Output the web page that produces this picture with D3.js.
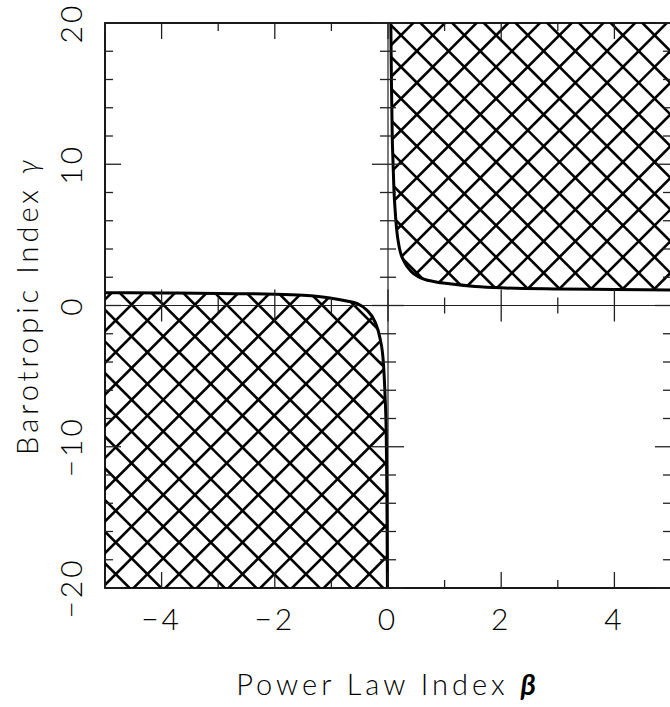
<!DOCTYPE html>
<html>
<head>
<meta charset="utf-8">
<script src="https://cdn.jsdelivr.net/npm/d3@7"></script>
<style>
  html, body { margin: 0; padding: 0; background: #fff; }
  svg text { font-family: "Lato", "DejaVu Sans", sans-serif; font-weight: 300; fill: #000; }
</style>
</head>
<body>
<svg id="chart" width="670" height="707"></svg>
<script>
// ---- data ----
const upperBeta  = [0.05, 0.06, 0.075, 0.09, 0.105, 0.125, 0.15, 0.2, 0.3, 0.4, 0.535, 0.83, 1.125, 1.54, 2.0, 3.0, 4.0, 5.0];
const upperGamma = [20, 16, 12, 10, 8.2, 6.8, 5.5, 4.1, 3.0, 2.45, 2.04, 1.68, 1.52, 1.35, 1.25, 1.17, 1.13, 1.1];
const lowerBeta  = [-5, -4, -3, -2, -1.5, -1.025, -0.73, -0.55, -0.376, -0.23, -0.141, -0.083, -0.053, -0.032, -0.02, -0.01];
const lowerGamma = [0.91, 0.89, 0.85, 0.8, 0.72, 0.53, 0.32, 0.15, -0.32, -1.15, -2.32, -3.98, -6.3, -9, -13, -20];
const xDomain = [-5, 5];
const yDomain = [-20, 20];
const xMajorTicks = [-4, -2, 0, 2, 4];
const xMinorTicks = [-5, -3, -1, 1, 3, 5];
const yMajorTicks = [-20, -10, 0, 10, 20];
const yMinorTicks = [-18, -16, -14, -12, -8, -6, -4, -2, 2, 4, 6, 8, 12, 14, 16, 18];
const xTitle = "Power Law Index ";
const xSymbol = "β";
const yTitle = "Barotropic Index ";
const ySymbol = "γ";

// ---- layout ----
const svg = d3.select("#chart");
const L = 105, R = 671, T = 23, B = 588;
const x = d3.scaleLinear().domain(xDomain).range([L, R]);
const y = d3.scaleLinear().domain(yDomain).range([B, T]);

const upper = upperBeta.map((b, i) => [b, upperGamma[i]]);
const lower = lowerBeta.map((b, i) => [b, lowerGamma[i]]);

const line = d3.line().x(d => x(d[0])).y(d => y(d[1])).curve(d3.curveMonotoneX);

const defs = svg.append("defs");
function regionPath(pts, corner) {
  return line(pts) + "L" + x(corner[0]) + "," + y(corner[1]) + "Z";
}
defs.append("clipPath").attr("id", "clipUpper")
  .append("path").attr("d", regionPath(upper, [xDomain[1], yDomain[1]]));
defs.append("clipPath").attr("id", "clipLower")
  .append("path").attr("d", regionPath(lower, [xDomain[0], yDomain[0]]));
defs.append("clipPath").attr("id", "clipPlot")
  .append("rect").attr("x", L).attr("y", T).attr("width", R - L).attr("height", B - T);

// cross-hatching
const hatchStep = 31.7;
const phaseDiff = 20, phaseSum = 27;
function hatch(clipId) {
  const g = svg.append("g").attr("clip-path", `url(#${clipId})`)
    .append("g").attr("clip-path", "url(#clipPlot)");
  const segs = [];
  for (let c = -2000 + phaseDiff; c < 2000; c += hatchStep) {
    segs.push([[c - 100, -100], [c + 900, 900]]);
  }
  for (let c = -2000 + phaseSum; c < 2500; c += hatchStep) {
    segs.push([[c + 100, -100], [c - 900, 900]]);
  }
  g.selectAll("line").data(segs).enter().append("line")
    .attr("x1", d => d[0][0]).attr("y1", d => d[0][1])
    .attr("x2", d => d[1][0]).attr("y2", d => d[1][1])
    .attr("stroke", "#000").attr("stroke-width", 2.6);
}
hatch("clipUpper");
hatch("clipLower");

// zero axes
svg.append("line").attr("x1", x(0)).attr("x2", x(0)).attr("y1", T).attr("y2", B)
  .attr("stroke", "#222").attr("stroke-width", 1.2);
svg.append("line").attr("x1", L).attr("x2", R).attr("y1", y(0)).attr("y2", y(0))
  .attr("stroke", "#222").attr("stroke-width", 1.2);

// curves
const cg = svg.append("g").attr("clip-path", "url(#clipPlot)");
cg.append("path").attr("d", line(upper)).attr("fill", "none").attr("stroke", "#000").attr("stroke-width", 3);
cg.append("path").attr("d", line(lower)).attr("fill", "none").attr("stroke", "#000").attr("stroke-width", 3);

// frame
svg.append("rect").attr("x", L).attr("y", T).attr("width", R - L).attr("height", B - T)
  .attr("fill", "none").attr("stroke", "#000").attr("stroke-width", 1.8);

// ticks
const tk = svg.append("g").attr("stroke", "#222").attr("stroke-width", 1.3);
const maj = 16, mnr = 8;
function xTick(v, len) {
  const px = x(v);
  tk.append("line").attr("x1", px).attr("x2", px).attr("y1", B).attr("y2", B - len);
  tk.append("line").attr("x1", px).attr("x2", px).attr("y1", T).attr("y2", T + len);
  tk.append("line").attr("x1", px).attr("x2", px).attr("y1", y(0) - len).attr("y2", y(0) + len);
}
function yTick(v, len) {
  const py = y(v);
  tk.append("line").attr("x1", L).attr("x2", L + len).attr("y1", py).attr("y2", py);
  tk.append("line").attr("x1", R).attr("x2", R - len).attr("y1", py).attr("y2", py);
  tk.append("line").attr("x1", x(0) - len).attr("x2", x(0) + len).attr("y1", py).attr("y2", py);
}
xMajorTicks.forEach(v => xTick(v, maj));
xMinorTicks.forEach(v => xTick(v, mnr));
yMajorTicks.forEach(v => yTick(v, maj));
yMinorTicks.forEach(v => yTick(v, mnr));

// tick labels
const fmt = v => (v < 0 ? "\u2212" + Math.abs(v) : String(v));
svg.append("g").selectAll("text").data(xMajorTicks).enter().append("text")
  .attr("x", d => x(d)).attr("y", 630)
  .attr("text-anchor", "middle").attr("font-size", 30).attr("letter-spacing", 3)
  .text(fmt);
svg.append("g").selectAll("text").data(yMajorTicks).enter().append("text")
  .attr("transform", d => `translate(82,${y(d)}) rotate(-90)`)
  .attr("text-anchor", "middle").attr("font-size", 30).attr("letter-spacing", 3)
  .text(fmt);

// axis titles
const xt = svg.append("text").attr("x", (L + R) / 2).attr("y", 695)
  .attr("text-anchor", "middle").attr("font-size", 29).attr("letter-spacing", 4);
xt.append("tspan").text(xTitle);
xt.append("tspan").text(xSymbol).attr("font-style", "italic").attr("font-weight", 700);

const yt = svg.append("text").attr("transform", `translate(38,${(T + B) / 2}) rotate(-90)`)
  .attr("text-anchor", "middle").attr("font-size", 29).attr("letter-spacing", 4);
yt.append("tspan").text(yTitle);
yt.append("tspan").text(ySymbol).attr("font-style", "italic");
</script>
</body>
</html>
